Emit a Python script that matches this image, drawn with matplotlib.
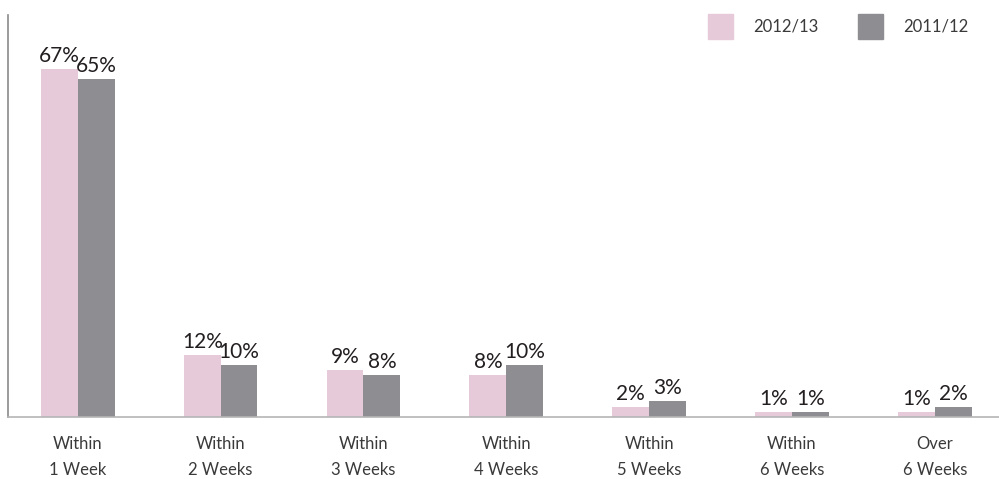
import numpy as np
import matplotlib
matplotlib.use("Agg")
import matplotlib.pyplot as plt
from matplotlib.patches import Rectangle

categories = ["Within\n1 Week", "Within\n2 Weeks", "Within\n3 Weeks", "Within\n4 Weeks",
              "Within\n5 Weeks", "Within\n6 Weeks", "Over\n6 Weeks"]
series_names = ["2012/13", "2011/12"]
values_1213 = [67, 12, 9, 8, 2, 1, 1]
values_1112 = [65, 10, 8, 10, 3, 1, 2]

pink = "#e7cad9"
grey = "#8d8d92"
text_col = "#231f20"

plt.rcParams['font.family'] = ['Lato', 'DejaVu Sans']

fig = plt.figure(figsize=(9.99, 4.79), dpi=100)
ax = fig.add_axes([0.008, 0.1294, 0.992, 0.8392])

x = np.arange(len(categories))
width = 0.258
b1 = ax.bar(x - width / 2, values_1213, width, color=pink)
b2 = ax.bar(x + width / 2, values_1112, width, color=grey)

for bars, vals in ((b1, values_1213), (b2, values_1112)):
    for bar, v in zip(bars, vals):
        ax.text(bar.get_x() + bar.get_width() / 2, v + 0.6, "%d%%" % v,
                ha='center', va='bottom', fontsize=15, color=text_col)

ax.set_xlim(-0.489, 6.45)
ax.set_ylim(0, 77.4)
ax.set_xticks(x)
ax.set_xticklabels(categories, fontsize=12, color="#3a3a3a", linespacing=1.7)
ax.tick_params(axis='x', length=0, pad=14)
ax.set_yticks([])
for s in ['top', 'right']:
    ax.spines[s].set_visible(False)
ax.spines['left'].set_color("#8a8a8a")
ax.spines['left'].set_linewidth(1.2)
ax.spines['bottom'].set_color("#b5b5b5")
ax.spines['bottom'].set_linewidth(1.2)

# legend drawn as squares + text in figure coords
for name, col, xpos in zip(series_names, [pink, grey], [708, 858]):
    fig.patches.append(Rectangle((xpos / 999, 1 - 39 / 479), 25 / 999, 25 / 479,
                                 transform=fig.transFigure, color=col))
    fig.text((xpos + 45) / 999, 1 - 27 / 479, name, fontsize=12,
             color="#3a3a3a", va='center', ha='left')

fig.savefig("out.png", dpi=100)
